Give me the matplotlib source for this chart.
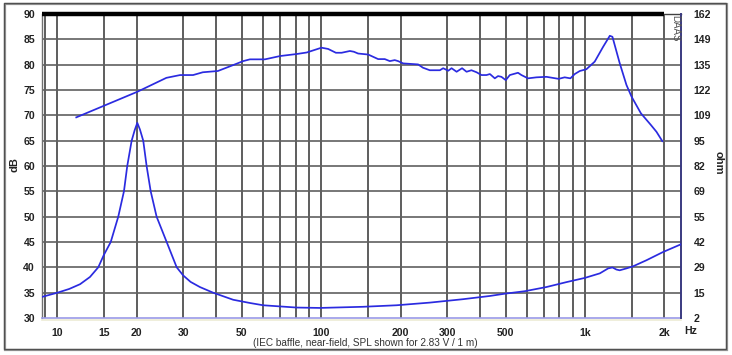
import numpy as np
import matplotlib
matplotlib.use("Agg")
import matplotlib.pyplot as plt
from matplotlib.patches import Rectangle
from matplotlib.lines import Line2D
from matplotlib.ticker import FixedLocator, FixedFormatter, NullLocator

# ---------------- data ----------------
spl_freq = [11.8, 20.1, 25.9, 29.2, 32.7, 35.6, 40.6, 46.3, 50.6, 53.7, 61.2, 69.8,
            80.7, 88.1, 100.3, 106.3, 113.7, 119.5, 128.5, 133, 138, 150.7, 164.4,
            174.2, 182, 190, 195.7, 204.5, 233, 243, 258, 281.7, 290, 303, 312, 326,
            342, 355.6, 371, 388, 405, 423, 436, 455, 468, 482, 500.6, 518.7, 557,
            574, 608, 654.6, 714, 794, 837, 880, 914, 955, 1012, 1088, 1170, 1241,
            1270, 1353, 1435, 1500, 1628, 1776, 1865, 1963]
spl_db = [69.6, 74.65, 77.4, 77.95, 77.95, 78.5, 78.75, 79.9, 80.7, 81.05, 81.05, 81.7,
          82.1, 82.4, 83.35, 83.1, 82.35, 82.35, 82.7, 82.55, 82.2, 82.0, 81.1,
          81.1, 80.7, 80.9, 80.7, 80.25, 80.05, 79.4, 78.9, 78.9, 79.3, 78.8, 79.3, 78.6,
          79.3, 78.6, 78.9, 78.5, 77.95, 77.95, 78.15, 77.3, 77.75, 77.6, 76.95, 77.95, 78.4,
          77.95, 77.3, 77.5, 77.6, 77.2, 77.5, 77.3, 78.15, 78.75, 79.1, 80.6, 83.5, 85.7,
          85.5, 80.3, 76.0, 73.7, 70.4, 68.1, 66.75, 64.9]

imp_freq = [8.75, 10, 11.1, 12.2, 13.3, 14.3, 15.0, 15.94, 17.02, 17.89, 18.41, 19.13,
            19.65, 20.1, 20.57, 21.17, 21.8, 22.59, 23.79, 25.97, 28.34, 30.0, 32.0,
            34.7, 38.99, 46.4, 53.7, 60.3, 80.7, 98.9, 144, 193, 258, 345, 436, 497, 591,
            714, 851, 998, 1138, 1223, 1270, 1315, 1353, 1435, 1520, 1709, 1973, 2310]
imp_ohm = [13.1, 15.3, 17.3, 19.8, 23.6, 28.7, 35.1, 42.0, 55.3, 68.7, 82.0, 95.3,
           100.9, 104.7, 101.2, 95.3, 82.0, 68.7, 55.3, 42.0, 28.7, 24.4, 21.0,
           18.3, 15.3, 11.6, 9.9, 8.7, 7.5, 7.3, 7.9, 8.7, 10.1, 11.9, 13.6, 14.8, 16.1,
           18.3, 20.9, 23.1, 25.5, 28.1, 28.6, 27.5, 27.1, 28.1, 29.2, 32.4, 36.7, 40.8]

grid_freqs = [9, 10, 15, 20, 30, 40, 50, 60, 70, 80, 90, 100, 150, 200, 300, 400, 500,
              600, 700, 800, 900, 1000, 1500, 2000]
x_ticks = [10, 15, 20, 30, 50, 100, 200, 300, 500, 1000, 2000]
x_labels = ['10', '15', '20', '30', '50', '100', '200', '300', '500', '1k', '2k']
db_ticks = [30, 35, 40, 45, 50, 55, 60, 65, 70, 75, 80, 85, 90]
ohm_labels = ['2', '15', '29', '42', '55', '69', '82', '95', '109', '122', '135', '149', '162']

# ---------------- figure ----------------
W, H = 732, 355
fig = plt.figure(figsize=(W / 100, H / 100), dpi=100)
fig.patch.set_facecolor('white')
FONT = 'Liberation Sans'
TXT = '#222222'
CURVE = '#2b2be0'
GRID = '#505050'
FS = 7.6

L, R, T, B = 42, 681, 14, 318
ax = fig.add_axes([L / W, 1 - B / H, (R - L) / W, (B - T) / H])
ax.set_xscale('log')
ax.set_xlim(8.75, 2310)
ax.set_ylim(30, 90)

for f in grid_freqs:
    ax.axvline(f, color=GRID, lw=1.3, zorder=1)
for d in db_ticks[1:-1]:
    ax.axhline(d, color='#606060', lw=1.2, zorder=1)

ax.plot(spl_freq, spl_db, color=CURVE, lw=1.25, zorder=3)

ax.spines['top'].set_visible(False)
ax.spines['left'].set_color('#707070')
ax.spines['left'].set_linewidth(1.0)
ax.spines['bottom'].set_color('#9a9ae8')
ax.spines['bottom'].set_linewidth(1.2)
ax.spines['right'].set_visible(False)

# thick top bar up to 2k
ax.plot([8.75, 2000], [90, 90], color='black', lw=3.2, zorder=5, clip_on=False,
        solid_capstyle='butt')
ax.plot([2000, 2310], [90, 90], color='#404040', lw=1.0, zorder=5, clip_on=False)

# impedance on twin axis
ax2 = ax.twinx()
ax2.set_ylim(2, 162)
ax2.plot(imp_freq, imp_ohm, color=CURVE, lw=1.25, zorder=3)
ax2.yaxis.set_major_locator(FixedLocator(np.linspace(2, 162, 13)))
ax2.yaxis.set_major_formatter(FixedFormatter(ohm_labels))
ax2.tick_params(axis='y', length=0, labelsize=FS, colors=TXT, pad=9)
for s in ['top', 'left', 'bottom']:
    ax2.spines[s].set_visible(False)
ax2.spines['right'].set_color('#3a3a80')
ax2.spines['right'].set_linewidth(1.4)

# x ticks (after twinx so they are not reset)
ax.xaxis.set_major_locator(FixedLocator(x_ticks))
ax.xaxis.set_major_formatter(FixedFormatter(x_labels))
ax.xaxis.set_minor_locator(NullLocator())
ax.set_xlim(8.75, 2310)
ax.set_yticks(db_ticks)
ax.tick_params(axis='both', which='both', length=0, labelsize=FS, colors=TXT)
ax.tick_params(axis='x', pad=7)
ax.tick_params(axis='y', pad=5)
for lab in ax.get_xticklabels() + ax.get_yticklabels() + ax2.get_yticklabels():
    lab.set_fontfamily(FONT)
    lab.set_fontweight('bold')

# labels
fig.text(14 / W, 1 - 165 / H, 'dB', rotation=90, ha='center', va='center',
         fontsize=8, fontweight='bold', family=FONT, color=TXT)
fig.text(719 / W, 1 - 163 / H, 'ohm', rotation=-90, ha='center', va='center',
         fontsize=8, fontweight='bold', family=FONT, color=TXT)
fig.text(691 / W, 1 - 331.5 / H, 'Hz', ha='center', va='center',
         fontsize=FS, fontweight='bold', family=FONT, color=TXT)
fig.text(365 / W, 1 - 342.5 / H, '(IEC baffle, near-field, SPL shown for 2.83 V / 1 m)',
         ha='center', va='center', fontsize=7.2, family=FONT, color='#333333')
fig.text(675 / W, 1 - 15 / H, 'DAAS', rotation=-90, ha='center', va='top',
         fontsize=7, family=FONT, color='#555555')

# pale line below bottom spine
fig.add_artist(Line2D([L / W, R / W], [1 - 319.5 / H, 1 - 319.5 / H],
                      color='#ecebd4', lw=1.2))

# outer frame with shadow
fig.add_artist(Rectangle((5 / W, 1 - 350 / H), 722 / W, 346 / H, fill=False,
                         edgecolor='#9a9a9a', lw=1.6, transform=fig.transFigure))
fig.add_artist(Rectangle((4 / W, 1 - 349 / H), 722 / W, 346 / H, fill=False,
                         edgecolor='#505050', lw=1.0, transform=fig.transFigure))

fig.savefig('out.png', dpi=100)
